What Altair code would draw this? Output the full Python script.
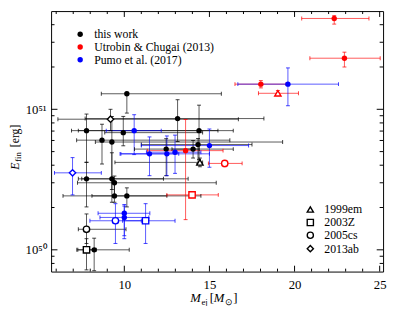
import altair as alt
import pandas as pd

# ---------------- data ----------------
sources = ["this work", "Utrobin & Chugai (2013)", "Pumo et al. (2017)"]
colors = ["#000000", "#ff0000", "#0000ff"]
sn_names = ["1999em", "2003Z", "2005cs", "2013ab"]
sn_shapes = ["triangle-up", "square", "circle", "diamond"]

# this work (black)
tw_mej = [10.15, 7.78, 8.69, 9.27, 9.94, 13.13, 12.46, 14.04, 14.33, 14.39,
          7.78, 9.27, 9.42, 9.42, 10.15, 8.23, 9.19, 14.44, 7.78, 7.78]
tw_mej_lo = [8.65, 6.90, 7.20, 8.30, 8.85, 7.70, 10.60, 12.80, 11.00, 7.30,
             7.30, 7.50, 7.25, 6.40, 8.10, 7.27, 6.10, 9.45, 7.30, 7.21]
tw_mej_hi = [15.70, 15.50, 16.20, 19.30, 14.60, 18.20, 14.40, 16.40, 17.50, 16.40,
             12.30, 13.75, 15.40, 12.50, 14.50, 10.29, 16.70, 14.60, 10.10, 8.35]
tw_efin = [1.29e51, 7.05e50, 6.03e50, 5.85e50, 6.82e50, 8.59e50, 5.21e50, 5.21e50, 5.61e50, 7.05e50,
           3.2e50, 3.2e50, 3.0e50, 2.42e50, 2.42e50, 1.0e50, 8.5e50, 4.19e50, 1.40e50, 1.0e50]
tw_efin_lo = [9.4e50, 4.19e50, 4.08e50, 2.69e50, 5.5e50, 5.9e50, 3.37e50, 4.5e50, 4.1e50, 4.4e50,
              2.02e50, 2.18e50, 2.45e50, 2.18e50, 2.02e50, 7.1e49, 7.05e50, 3.9e50, 1.11e50, 7.2e49]
tw_efin_hi = [1.32e51, 9.25e50, 7.83e50, 8.9e50, 8.9e50, 1.17e51, 6.18e50, 6.0e50, 6.2e50, 1.07e51,
              4.2e50, 4.9e50, 3.35e50, 3.0e50, 2.76e50, 1.21e50, 1.0e51, 4.5e50, 1.8e50, 1.2e50]
tw_sn = [""] * 16 + ["2013ab", "1999em", "2005cs", "2003Z"]

# Utrobin & Chugai (2013) (red)
uc_mej = [13.6, 18.02, 22.93, 22.33, 13.98, 15.9, 19.02]
uc_mej_lo = [11.35, 16.5, 20.9, 20.42, 12.5, 14.94, 17.88]
uc_mej_hi = [15.8, 19.5, 25.03, 24.37, 15.52, 16.92, 20.23]
uc_efin = [5.08e50, 1.51e51, 2.31e51, 4.43e51, 2.46e50, 4.12e50, 1.30e51]
uc_efin_lo = [1.64e50, 1.42e51, 2.0e51, 4.04e51, 2.35e50, 3.9e50, 1.25e51]
uc_efin_hi = [8.46e50, 1.6e51, 2.55e51, 4.64e51, 2.6e50, 4.3e50, 1.36e51]
uc_sn = ["", "", "", "", "2003Z", "2005cs", "1999em"]

# Pumo et al. (2017) (blue)
pu_mej = [10.58, 11.48, 12.50, 12.98, 15.0, 10.0, 10.0, 19.61, 11.25, 9.48, 6.96]
pu_mej_lo = [8.94, 9.75, 9.80, 11.30, 11.0, 8.46, 8.57, 16.67, 9.90, 7.98, 5.90]
pu_mej_hi = [12.17, 13.2, 15.0, 14.5, 17.3, 11.5, 11.44, 22.58, 12.98, 11.0, 8.65]
pu_efin = [7.05e50, 4.82e50, 4.82e50, 4.95e50, 5.52e50, 1.82e50, 1.70e50, 1.51e51, 1.61e50, 1.61e50, 3.53e50]
pu_efin_lo = [4.76e50, 3.37e50, 3.37e50, 3.5e50, 3.87e50, 1.26e50, 1.2e50, 1.06e51, 1.11e50, 1.11e50, 2.46e50]
pu_efin_hi = [9.15e50, 6.36e50, 6.46e50, 6.55e50, 7.24e50, 2.1e50, 2.05e50, 1.97e51, 2.13e50, 2.13e50, 4.53e50]
pu_sn = [""] * 8 + ["2003Z", "2005cs", "2013ab"]

x_major = [10, 15, 20, 25]
x_minor = [6, 7, 8, 9, 11, 12, 13, 14, 16, 17, 18, 19, 21, 22, 23, 24]
y_major = [1e50, 1e51]
y_minor = [8e49, 9e49, 2e50, 3e50, 4e50, 5e50, 6e50, 7e50, 8e50, 9e50, 2e51, 3e51, 4e51]

# ---------------- build table ----------------
def block(src, m, mlo, mhi, e, elo, ehi, sn):
    return pd.DataFrame({"src": src, "mej": m, "mej_lo": mlo, "mej_hi": mhi,
                         "efin": e, "efin_lo": elo, "efin_hi": ehi, "sn": sn})

df = pd.concat([
    block(sources[0], tw_mej, tw_mej_lo, tw_mej_hi, tw_efin, tw_efin_lo, tw_efin_hi, tw_sn),
    block(sources[1], uc_mej, uc_mej_lo, uc_mej_hi, uc_efin, uc_efin_lo, uc_efin_hi, uc_sn),
    block(sources[2], pu_mej, pu_mej_lo, pu_mej_hi, pu_efin, pu_efin_lo, pu_efin_hi, pu_sn),
], ignore_index=True)

W, H = 339, 266
FONT = "Liberation Serif"

xs = alt.Scale(domain=[5.7, 25.2], nice=False, zero=False)
ys = alt.Scale(type="log", domain=[7e49, 5e51], nice=False)
cs = alt.Scale(domain=sources, range=colors)
ss = alt.Scale(domain=sn_names, range=sn_shapes)

axX = alt.Axis(values=x_major, ticks=False, domain=False, grid=False,
               labelFont=FONT, labelFontSize=13, labelColor="black",
               labelPadding=7, labelFlush=False)
axY = alt.Axis(values=y_major, ticks=False, domain=False, grid=False,
               labelExpr="datum.value > 5e50 ? '10⁵¹' : '10⁵⁰'",
               labelFont=FONT, labelFontSize=13, labelColor="black",
               labelPadding=5, labelFlush=False)

def X(f):
    return alt.X(f, scale=xs, axis=axX, title=None)

def Y(f):
    return alt.Y(f, scale=ys, axis=axY, title=None)

base = alt.Chart(df)
col = alt.Color("src:N", scale=cs, legend=None)

xerr = base.mark_rule(strokeWidth=1, opacity=0.65).encode(
    x=X("mej_lo:Q"), x2="mej_hi:Q", y=Y("efin:Q"), color=col)
yerr = base.mark_rule(strokeWidth=1, opacity=0.65).encode(
    x=X("mej:Q"), y=Y("efin_lo:Q"), y2="efin_hi:Q", color=col)
xcap = base.transform_fold(["mej_lo", "mej_hi"], as_=["k", "xc"]).mark_tick(
    orient="vertical", size=4, thickness=1, opacity=0.75).encode(
    x=X("xc:Q"), y=Y("efin:Q"), color=col)
ycap = base.transform_fold(["efin_lo", "efin_hi"], as_=["k", "yc"]).mark_tick(
    orient="horizontal", size=4, thickness=1, opacity=0.75).encode(
    x=X("mej:Q"), y=Y("yc:Q"), color=col)

filled = base.transform_filter("datum.sn == ''").mark_point(
    filled=True, shape="circle", size=30, opacity=1).encode(
    x=X("mej:Q"), y=Y("efin:Q"), color=col)

hollow = base.transform_filter("datum.sn != ''").mark_point(
    size=42, strokeWidth=1.4, opacity=1, fill="white", fillOpacity=1).encode(
    x=X("mej:Q"), y=Y("efin:Q"),
    stroke=alt.Stroke("src:N", scale=cs, legend=None),
    shape=alt.Shape("sn:N", scale=ss, legend=None))

def ticks(vals, ch, side, length):
    d = alt.Chart(pd.DataFrame({"v": vals})).mark_rule(color="black", strokeWidth=1)
    if ch == "x":
        y0 = H if side == "bottom" else 0
        y1 = H - length if side == "bottom" else length
        return d.encode(x=X("v:Q"), y=alt.value(y0), y2=alt.value(y1))
    x0 = 0 if side == "left" else W
    x1 = length if side == "left" else W - length
    return d.encode(y=Y("v:Q"), x=alt.value(x0), x2=alt.value(x1))

tick_layers = [
    ticks(x_major, "x", "bottom", 6), ticks(x_minor, "x", "bottom", 3),
    ticks(x_major, "x", "top", 6), ticks(x_minor, "x", "top", 3),
    ticks(y_major, "y", "left", 6.5), ticks(y_minor, "y", "left", 3.5),
    ticks(y_major, "y", "right", 6.5), ticks(y_minor, "y", "right", 3.5),
]

one = pd.DataFrame({"a": [0]})

def txt(s, x, y, size=12, italic=False, angle=0, baseline="alphabetic"):
    return alt.Chart(one).mark_text(
        text=s, font=FONT, fontSize=size, fontStyle="italic" if italic else "normal",
        angle=angle, align="left", baseline=baseline, color="black").encode(
        x=alt.value(x), y=alt.value(y))

legend_layers = []
for lab, c, yy in zip(sources, colors, [23.7, 36.7, 49.7]):
    legend_layers.append(alt.Chart(one).mark_point(filled=True, shape="circle", size=30,
                                                   opacity=1, color=c).encode(
        x=alt.value(29.7), y=alt.value(yy)))
    legend_layers.append(txt(lab, 44, yy, 12, baseline="middle"))
for lab, shp, yy in zip(sn_names, sn_shapes, [202.6, 215.9, 228.9, 242.6]):
    legend_layers.append(alt.Chart(one).mark_point(shape=shp, size=40, strokeWidth=1.4,
                                                   opacity=1, stroke="black", fill="white",
                                                   fillOpacity=1).encode(
        x=alt.value(264.7), y=alt.value(yy)))
    legend_layers.append(txt(lab, 279, yy, 12, baseline="middle"))

title_layers = [
    # x title: M_ej [M_sun]
    txt("M", 142, 297, 13, italic=True), txt("ej", 153.5, 300, 9),
    txt("[", 162, 297, 13), txt("M", 166, 297, 13, italic=True),
    txt("⊙", 178, 300, 9), txt("]", 186, 297, 13),
    # y title: E_fin [erg]
    txt("E", -33, 162, 12, italic=True, angle=270),
    txt("fin", -30.5, 154, 9, angle=270),
    txt("[erg]", -33, 139, 12, angle=270),
]

chart = alt.layer(
    xerr, yerr, xcap, ycap, *tick_layers, hollow, filled, *legend_layers, *title_layers
).properties(
    width=W, height=H,
    autosize=alt.AutoSizeParams(type="none"),
    padding={"left": 44, "top": 0, "right": 4, "bottom": 32},
    background="white",
).configure_view(stroke="black", strokeWidth=1)

chart.save("out.html", embed_options={"renderer": "svg", "actions": False})
